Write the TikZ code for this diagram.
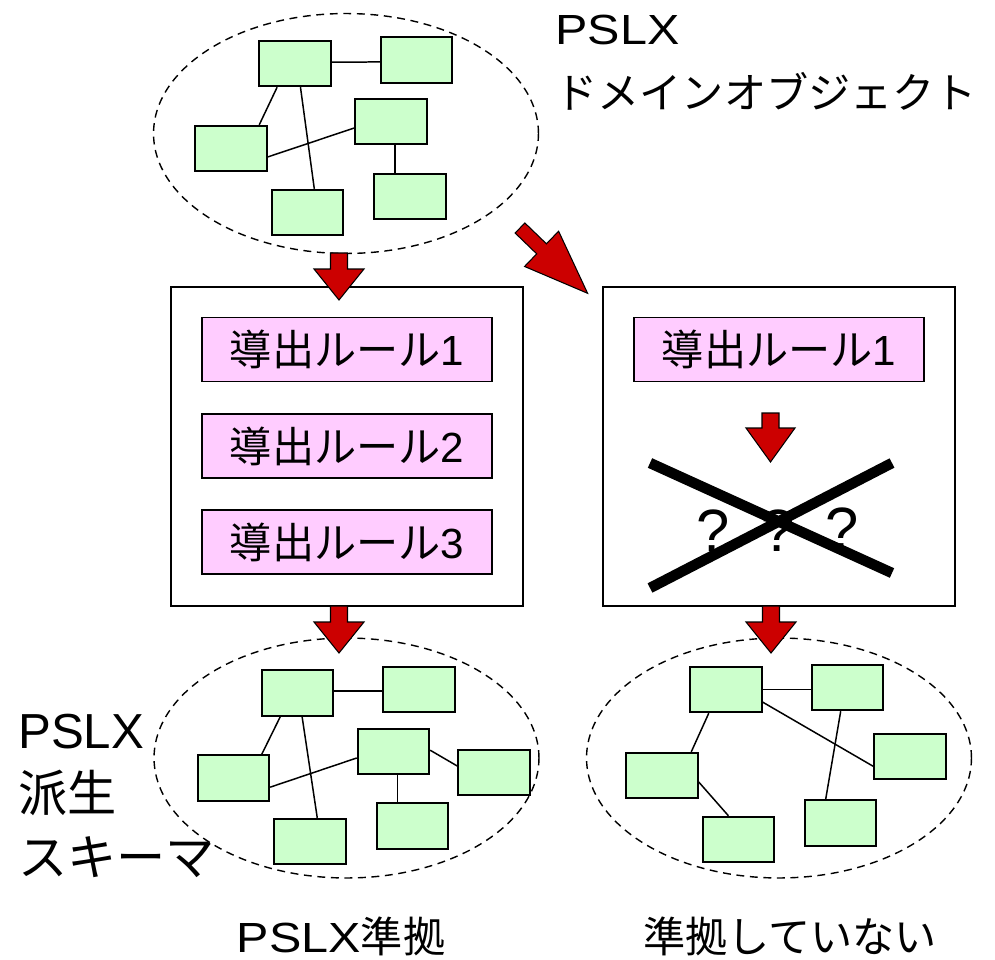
\documentclass[tikz,border=0pt]{standalone}
\usepackage{fontspec}
\setmainfont{Liberation Sans}
\newfontfamily\widelat[FakeStretch=1.15]{Liberation Sans}
\newfontfamily\jp{Noto Sans CJK JP}
\usetikzlibrary{shapes.geometric}
\definecolor{objgreen}{HTML}{CCFFCC}
\definecolor{rulepink}{HTML}{FFCCFF}
\definecolor{arrowred}{HTML}{CC0000}
\tikzset{
  obj/.style={draw, line width=1.1pt, fill=objgreen, minimum width=1.43cm,
    minimum height=0.91cm, inner sep=0},
  link/.style={line width=0.85pt},
  schema/.style={ellipse, draw, line width=0.8pt, dash pattern=on 4.5pt off 3.2pt,
    minimum width=7.7cm, minimum height=4.8cm, inner sep=0},
  rulebox/.style={draw, line width=0.8pt, fill=rulepink, minimum width=5.8cm,
    minimum height=1.28cm, inner sep=0},
  frame/.style={draw, line width=0.8pt, minimum width=7.04cm, minimum height=6.38cm},
  qmark/.style={font=\fontsize{34}{36}\selectfont, inner sep=0},
  pics/fatarrow/.style n args={4}{code={%
    \draw[fill=arrowred, line width=0.6pt] (-#1,0) -- (#1,0) -- (#1,#3) -- (#2,#3)
      -- (0,#4) -- (-#2,#3) -- (-#1,#3) -- cycle;}}
}
\begin{document}
\begin{tikzpicture}[x=0.02cm, y=-0.02cm, font=\fontsize{24}{36}\selectfont]
  \useasboundingbox (0,0) rectangle (995,960);
  % domain objects
  \node[schema] (dom) at (346,133.5) {};
  \node[obj] (d1) at (295,63.5) {};
  \node[obj] (d2) at (416.5,60) {};
  \node[obj] (d3) at (391,121.5) {};
  \node[obj] (d4) at (231,148.5) {};
  \node[obj] (d5) at (410,196.5) {};
  \node[obj] (d6) at (307.5,212.5) {};
  \draw[link] (d1.2) -- (d2.183);
  \draw[link] (d1.233) -- (d4.40);
  \draw[link] (d1.283) -- (d6.74);
  \draw[link] (d4.347) -- (d3.190);
  \draw[link] (d3.280) -- (d3.280 |- d5.north);
  \node[anchor=north west, align=left, inner sep=0] (title) at (555,15)
    {{\widelat PSLX}\\{\jp ドメインオブジェクト}};%
  % derivation rules
  \node[frame] (box1) at (347,446.5) {};
  \node[frame] (box2) at (779,446.5) {};
  \node[rulebox] (rule1) at (347,349.5) {{\jp 導出ルール}1};
  \node[rulebox] (rule2) at (347,446) {{\jp 導出ルール}2};
  \node[rulebox] (rule3) at (347,542) {{\jp 導出ルール}3};
  \node[rulebox] (ruleb) at (779,349.5) {{\jp 導出ルール}1};
  \node[qmark] (q1) at (713,531) {?};
  \node[qmark] (q2) at (778,531) {?};
  \node[qmark] (q3) at (842,529) {?};
  \draw[line width=0.21cm] (650,463) -- (892,573) (650,588) -- (892,463);
  % conforming schema
  \node[schema] (conf) at (346.5,758) {};
  \node[obj] (p1) at (297.5,693) {};
  \node[obj] (p2) at (419,689.5) {};
  \node[obj] (p3) at (393.5,751.5) {};
  \node[obj] (p4) at (233.5,778) {};
  \node[obj] (p5) at (494,772.5) {};
  \node[obj] (p6) at (412.5,826) {};
  \node[obj] (p7) at (310,841.5) {};
  \draw[link] (p1.3) -- (p1.3 -| p2.west);
  \draw[link] (p1.234) -- (p4.40);
  \draw[link] (p1.281) -- (p7.73);
  \draw[link] (p4.346) -- (p3.190);
  \draw[link] (p3.2) -- (p5.170);
  \draw[link] (p3.279) -- (p3.279 |- p6.north);
  % non-conforming schema
  \node[schema] (nonconf) at (779,758) {};
  \node[obj] (n1) at (726,689.5) {};
  \node[obj] (n2) at (847.5,687.5) {};
  \node[obj] (n3) at (910,756.5) {};
  \node[obj] (n4) at (662,775.5) {};
  \node[obj] (n5) at (840.5,823) {};
  \node[obj] (n6) at (738.5,839.5) {};
  \draw[link] (n1.east) -- (n1.east -| n2.west);
  \draw[link] (n1.341) -- (n3.195);
  \draw[link] (n2.254) -- (n5.122);
  \draw[link] (n1.234) -- (n4.39);
  \draw[link] (n4.350) -- (n6.113);
  \node[anchor=north west, align=left, inner sep=0,
    font=\fontsize{28}{36}\selectfont] (derived) at (18,714)
    {PSLX\\{\jp 派生}\\{\jp スキーマ}};%
  \node[inner sep=0] (conflabel) at (341,936) {{\widelat PSLX}{\jp 準拠}};
  \node[inner sep=0] (nonconflabel) at (790,936) {{\jp 準拠していない}};
  % red arrows
  \pic at (339,253) {fatarrow={8.5}{25}{16}{47}};
  \pic at (339,606) {fatarrow={8.5}{25}{16}{47}};
  \pic at (771,606) {fatarrow={8.5}{25}{16}{47}};
  \pic at (770.5,413) {fatarrow={8.5}{24.5}{15}{49}};
  \pic[rotate=46] at (520,228) {fatarrow={7}{24.5}{30}{94}};
\end{tikzpicture}
\end{document}
